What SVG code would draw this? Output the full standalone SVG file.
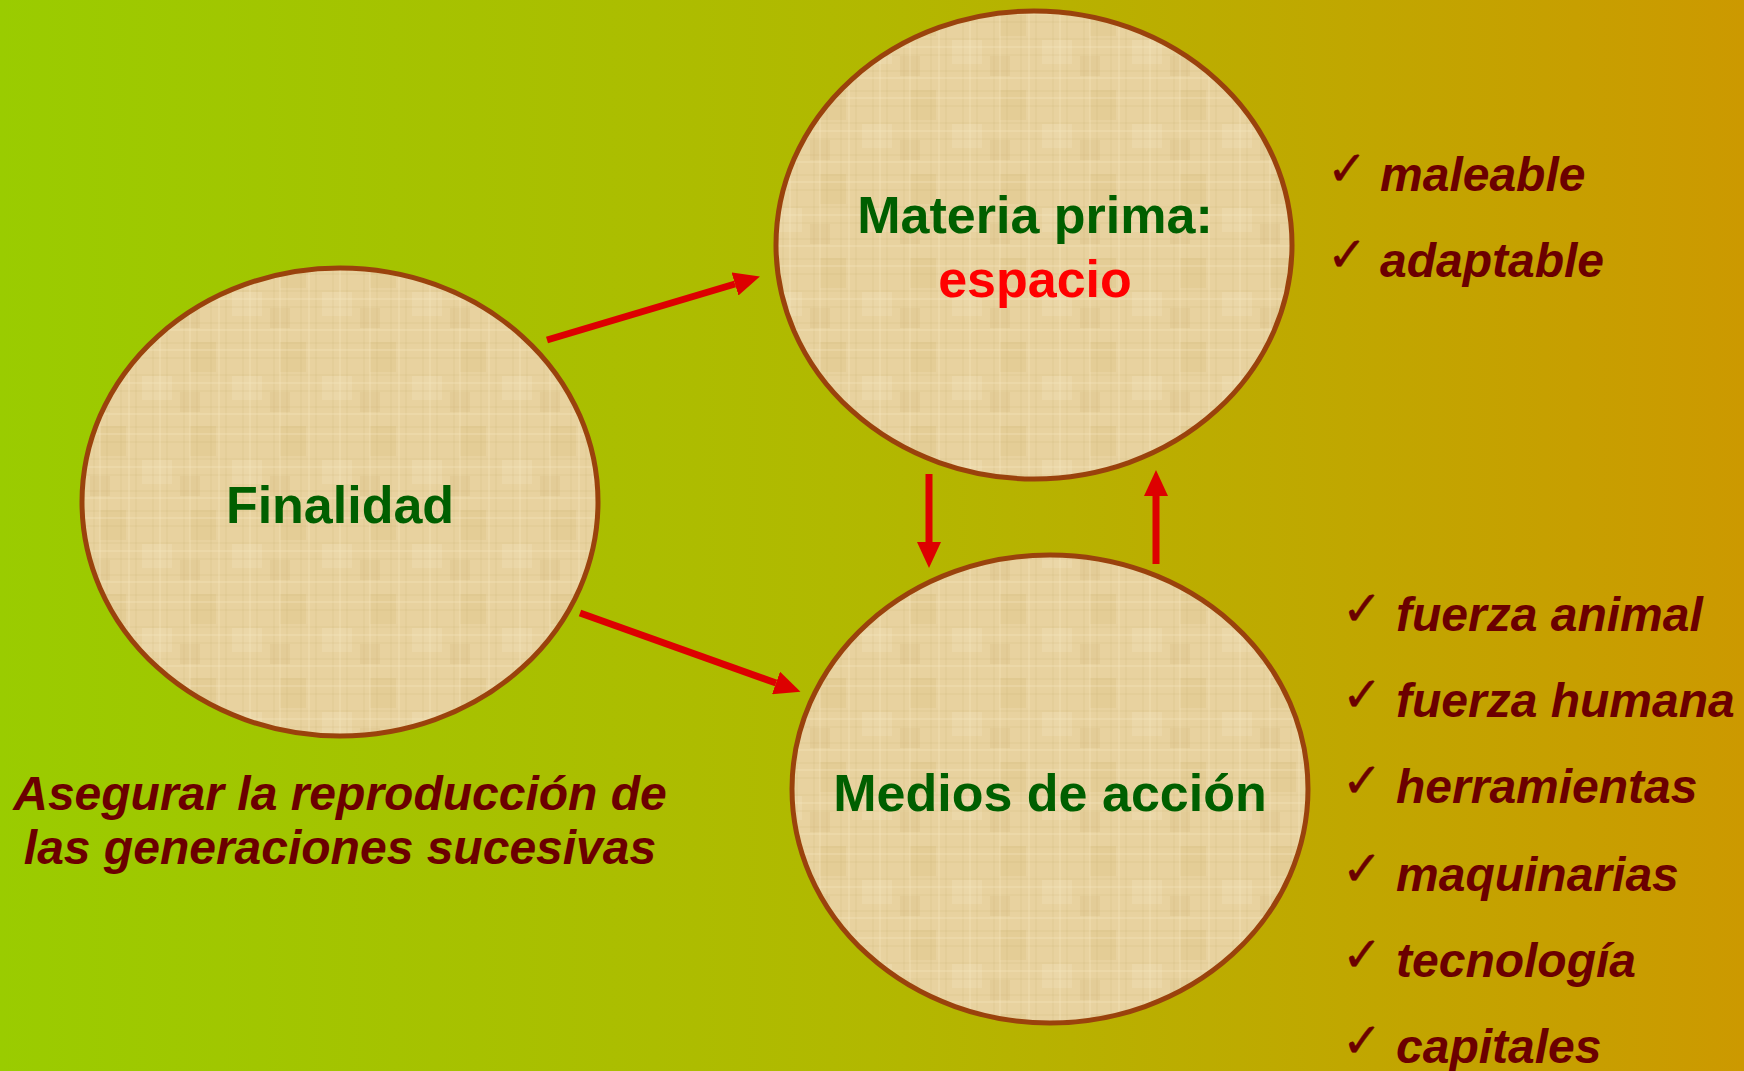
<svg xmlns="http://www.w3.org/2000/svg" width="1744" height="1071" viewBox="0 0 1744 1071">
  <defs>
    <linearGradient id="bg" x1="0" y1="0" x2="1" y2="0">
      <stop offset="0" stop-color="#9ACC00"/>
      <stop offset="0.5" stop-color="#B2B800"/>
      <stop offset="1" stop-color="#CC9900"/>
    </linearGradient>
    <pattern id="papyrus" width="90" height="84" patternUnits="userSpaceOnUse">
      <rect width="90" height="84" fill="#E8D29F"/>
      <rect x="10" y="6" width="26" height="30" fill="#DCC184" fill-opacity="0.35"/>
      <rect x="52" y="40" width="30" height="24" fill="#F1DFB4" fill-opacity="0.45"/>
      <rect x="0" y="56" width="20" height="20" fill="#D9BE86" fill-opacity="0.3"/>
      <g stroke="#C8AB70" stroke-opacity="0.25" stroke-width="1">
        <line x1="4" y1="0" x2="4" y2="84"/>
        <line x1="17" y1="0" x2="17" y2="84"/>
        <line x1="31" y1="0" x2="31" y2="84"/>
        <line x1="46" y1="0" x2="46" y2="84"/>
        <line x1="63" y1="0" x2="63" y2="84"/>
        <line x1="77" y1="0" x2="77" y2="84"/>
        <line x1="0" y1="7" x2="90" y2="7"/>
        <line x1="0" y1="22" x2="90" y2="22"/>
        <line x1="0" y1="39" x2="90" y2="39"/>
        <line x1="0" y1="55" x2="90" y2="55"/>
        <line x1="0" y1="71" x2="90" y2="71"/>
      </g>
      <g stroke="#F6E8C2" stroke-opacity="0.35" stroke-width="1.5">
        <line x1="10" y1="0" x2="10" y2="84"/>
        <line x1="39" y1="0" x2="39" y2="84"/>
        <line x1="70" y1="0" x2="70" y2="84"/>
        <line x1="0" y1="14" x2="90" y2="14"/>
        <line x1="0" y1="47" x2="90" y2="47"/>
        <line x1="0" y1="78" x2="90" y2="78"/>
      </g>
    </pattern>
    <marker id="head" viewBox="0 0 26 24" refX="0" refY="12" markerWidth="26" markerHeight="24" markerUnits="userSpaceOnUse" orient="auto">
      <path d="M0,0 L26,12 L0,24 z" fill="#DD0000"/>
    </marker>
    <style>
      .node { fill: url(#papyrus); stroke: #9A420C; stroke-width: 5; }
      .title { font-family: "Liberation Sans", Arial, sans-serif; font-weight: bold; font-size: 52px; fill: #005F00; text-anchor: middle; }
      .item { font-family: "Liberation Sans", Arial, sans-serif; font-weight: bold; font-style: italic; font-size: 48px; fill: #6B0000; }
      .check { font-family: "DejaVu Sans", sans-serif; font-size: 48px; fill: #6B0000; stroke: #6B0000; stroke-width: 0.5; }
      .conn line { stroke: #DD0000; stroke-width: 7; marker-end: url(#head); }
    </style>
  </defs>

  <rect width="1744" height="1071" fill="url(#bg)"/>

  <g id="finalidad">
    <ellipse class="node" cx="340" cy="502" rx="258" ry="234"/>
    <text class="title" x="340" y="523">Finalidad</text>
  </g>

  <g id="materia-prima">
    <ellipse class="node" cx="1034" cy="245" rx="258" ry="234"/>
    <text class="title" x="1035" y="233">Materia prima:</text>
    <text class="title" x="1035" y="297" style="fill:#FF0000">espacio</text>
  </g>

  <g id="medios">
    <ellipse class="node" cx="1050" cy="789" rx="258" ry="234"/>
    <text class="title" x="1050" y="811">Medios de acción</text>
  </g>

  <g id="connectors" class="conn">
    <line x1="547" y1="340" x2="735" y2="284"/>
    <line x1="580" y1="613" x2="776" y2="683"/>
    <line x1="929" y1="474" x2="929" y2="542"/>
    <line x1="1156" y1="564" x2="1156" y2="496"/>
  </g>

  <g id="finalidad-note">
    <text class="item" x="340" y="810" text-anchor="middle">Asegurar la reproducción de</text>
    <text class="item" x="340" y="864" text-anchor="middle">las generaciones sucesivas</text>
  </g>

  <g id="materia-list">
    <text class="check" x="1327" y="185">✓</text>
    <text class="item" x="1380" y="191">maleable</text>
    <text class="check" x="1327" y="271">✓</text>
    <text class="item" x="1380" y="277">adaptable</text>
  </g>

  <g id="medios-list">
    <text class="check" x="1342" y="625">✓</text>
    <text class="item" x="1396" y="631">fuerza animal</text>
    <text class="check" x="1342" y="711">✓</text>
    <text class="item" x="1396" y="717">fuerza humana</text>
    <text class="check" x="1342" y="797">✓</text>
    <text class="item" x="1396" y="803">herramientas</text>
    <text class="check" x="1342" y="885">✓</text>
    <text class="item" x="1396" y="891">maquinarias</text>
    <text class="check" x="1342" y="971">✓</text>
    <text class="item" x="1396" y="977">tecnología</text>
    <text class="check" x="1342" y="1057">✓</text>
    <text class="item" x="1396" y="1063">capitales</text>
  </g>
</svg>
